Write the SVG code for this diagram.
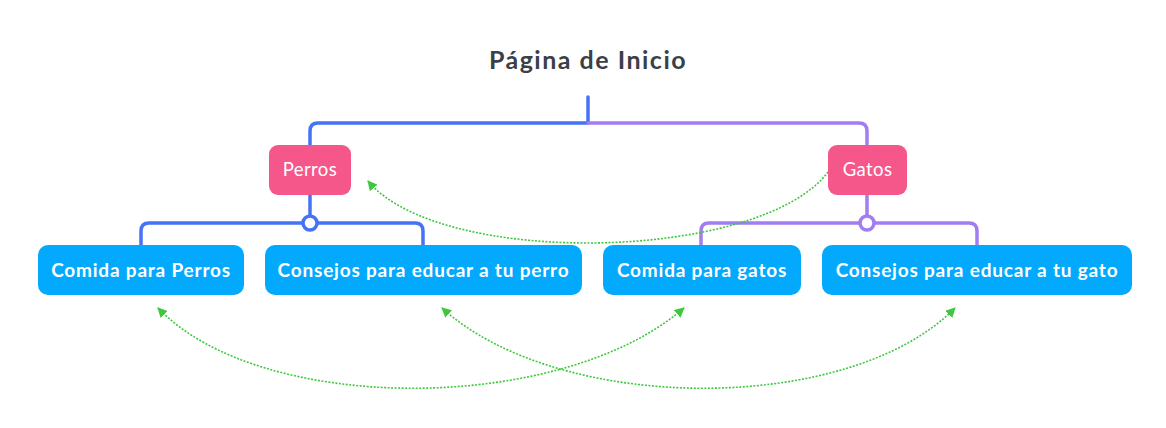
<svg xmlns="http://www.w3.org/2000/svg" width="1166" height="428" viewBox="0 0 1166 428">
<defs>
<style>
.title{font-family:Lato,"Open Sans","Liberation Sans",sans-serif;font-weight:bold;font-size:25px;letter-spacing:1.5px;fill:#3b3f47}
.main{fill:#f6578a}
.mainT{font-family:Lato,"Open Sans","Liberation Sans",sans-serif;font-size:18.5px;letter-spacing:0.4px;fill:#ffffff}
.sub{fill:#02a9fd}
.subT{font-family:Lato,"Open Sans","Liberation Sans",sans-serif;font-weight:bold;font-size:19px;letter-spacing:0.8px;fill:#ffffff}
.blue{stroke:#4672f6;stroke-width:3.5;fill:none;stroke-linecap:round;stroke-linejoin:round}
.purple{stroke:#a27cf1;stroke-width:3.5;fill:none;stroke-linecap:round;stroke-linejoin:round}
.rel{stroke:#3ec83e;stroke-width:1.6;fill:none;stroke-dasharray:2 1.5}
</style>
<marker id="ah" viewBox="0 0 10 10" refX="9" refY="5" markerWidth="10" markerHeight="10" markerUnits="userSpaceOnUse" orient="auto-start-reverse">
<path d="M0,0 L10,5 L0,10 z" fill="#3ec83e"/>
</marker>
</defs>
<rect width="1166" height="428" fill="#ffffff"/>
<g id="connectors">
<path class="blue" d="M588,97 V123 H318 Q310,123 310,131 V145"/>
<path class="purple" d="M588,123 H859 Q867,123 867,131 V145"/>
<path class="blue" d="M310,195 V216"/>
<path class="blue" d="M303,223 H149 Q141,223 141,231 V245 M317,223 H415 Q423,223 423,231 V245"/>
<circle cx="310" cy="223" r="7" fill="#ffffff" stroke="#4672f6" stroke-width="3.5"/>
<path class="purple" d="M867,195 V216"/>
<path class="purple" d="M860,223 H709 Q701,223 701,231 V245 M874,223 H969 Q977,223 977,231 V245"/>
<circle cx="867" cy="223" r="7" fill="#ffffff" stroke="#a27cf1" stroke-width="3.5"/>
<path class="rel" d="M828,172 C760,262 440,268 368,181" marker-end="url(#ah)"/>
<path class="rel" d="M158,308 C260,415 560,415 684,308" marker-start="url(#ah)" marker-end="url(#ah)"/>
<path class="rel" d="M442,308 C560,415 850,415 955,308" marker-start="url(#ah)" marker-end="url(#ah)"/>
</g>
<g id="root">
<text class="title" x="588" y="69" text-anchor="middle">Página de Inicio</text>
</g>
<g id="perros">
<rect class="main" x="269" y="145" width="82" height="50" rx="9"/>
<text class="mainT" x="310" y="176" text-anchor="middle">Perros</text>
</g>
<g id="gatos">
<rect class="main" x="828" y="145" width="79" height="50" rx="9"/>
<text class="mainT" x="867.5" y="176" text-anchor="middle">Gatos</text>
</g>
<g id="comida-perros">
<rect class="sub" x="38" y="245" width="206" height="50" rx="10"/>
<text class="subT" x="141" y="276.5" text-anchor="middle">Comida para Perros</text>
</g>
<g id="consejos-perro">
<rect class="sub" x="265" y="245" width="317" height="50" rx="10"/>
<text class="subT" x="423.5" y="276.5" text-anchor="middle">Consejos para educar a tu perro</text>
</g>
<g id="comida-gatos">
<rect class="sub" x="603" y="245" width="198" height="50" rx="10"/>
<text class="subT" x="702" y="276.5" text-anchor="middle">Comida para gatos</text>
</g>
<g id="consejos-gato">
<rect class="sub" x="822" y="245" width="310" height="50" rx="10"/>
<text class="subT" x="977" y="276.5" text-anchor="middle">Consejos para educar a tu gato</text>
</g>
</svg>
